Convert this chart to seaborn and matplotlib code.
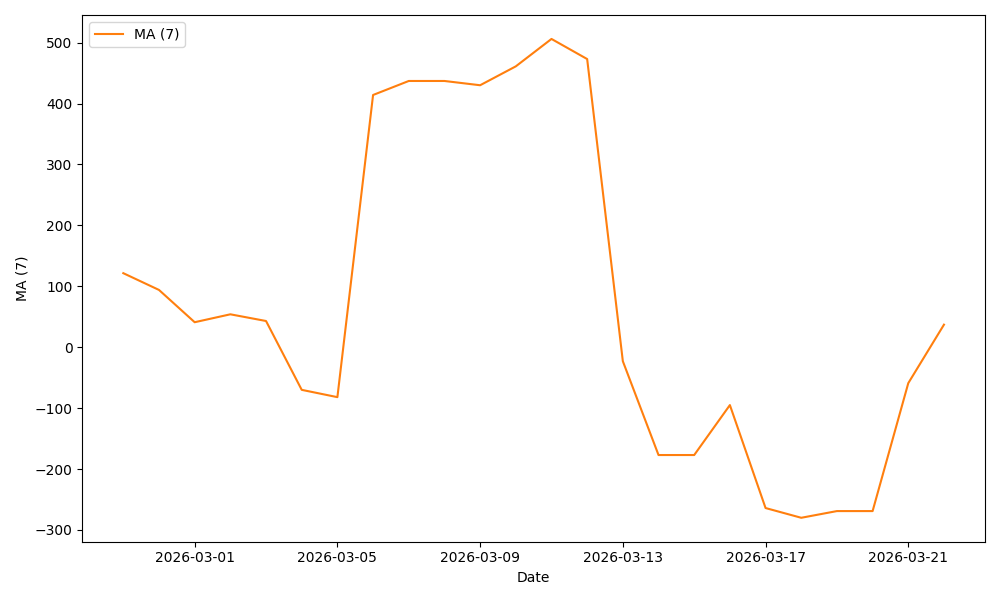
import seaborn as sns
import pandas as pd
import matplotlib.pyplot as plt
import matplotlib.dates as mdates

dates = pd.date_range('2026-02-27', '2026-03-22', freq='D')
ma7 = [121.5, 94, 41, 54, 43, -70, -82, 414, 437, 437, 430, 461, 506, 473,
       -23, -177, -177, -95, -264, -280, -269, -269, -59, 37]

df = pd.DataFrame({'Date': dates, 'MA (7)': ma7})

fig, ax = plt.subplots(figsize=(10, 6), dpi=100)
sns.lineplot(data=df, x='Date', y='MA (7)', color='#ff7f0e', label='MA (7)', ax=ax)
ax.xaxis.set_major_locator(mdates.DayLocator(bymonthday=[1, 5, 9, 13, 17, 21, 25]))
ax.xaxis.set_major_formatter(mdates.DateFormatter('%Y-%m-%d'))
ax.legend(loc='upper left')
ax.set_xlabel('Date')
ax.set_ylabel('MA (7)')
plt.tight_layout()
plt.savefig('out.png')
